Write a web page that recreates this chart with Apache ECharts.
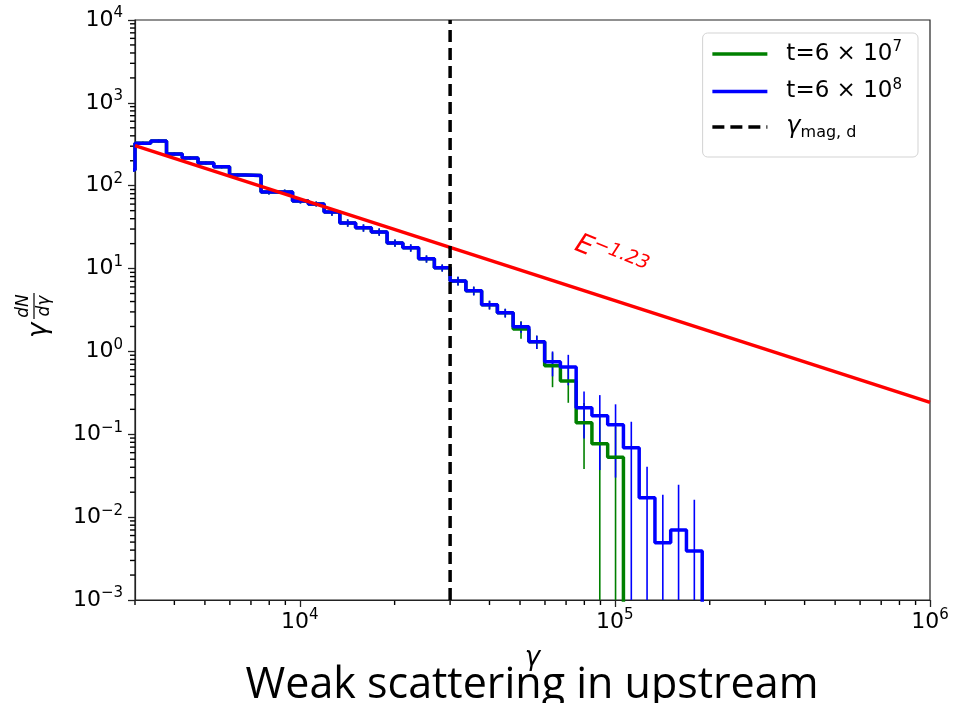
<!DOCTYPE html>
<html lang="en">
<head>
    <meta charset="UTF-8">
    <title>Weak scattering in upstream</title>
</head>
<script src="https://cdn.jsdelivr.net/npm/echarts@6/dist/echarts.min.js"></script>
<body style="margin:0">
<div id="main" style="height: 703px;width: 953px"></div>
<script type="text/javascript">
    // histogram bin edges in gamma (20 bins per decade, first bin lies left of the axis)
    var binEdges = [2674, 3000, 3366, 3777, 4238, 4755, 5335, 5986, 6717, 7536, 8456,
        9487, 10645, 11944, 13401, 15036, 16871, 18929, 21239, 23831, 26739,
        30000, 33661, 37768, 42376, 47547, 53348, 59857, 67161, 75356, 84551,
        94868, 106444, 119432, 134005, 150356, 168702, 189287]

    // t = 6e8 (blue)
    var blueVal = [155, 326, 347, 242, 216, 188, 169, 135, 133, 84, 84, 65.6, 60.3, 48.3,
        35.6, 31, 27.7, 20.4, 17.8, 13.1, 10.2, 7.1, 5.4, 3.65, 2.92, 1.98, 1.31,
        0.75, 0.65, 0.209, 0.167, 0.13, 0.0687, 0.0171, 0.0049, 0.007, 0.0039]
    var blueErr = [6, 13, 14, 10, 9, 8, 7, 5.5, 5.3, 5.9, 5.9, 4.6, 4.2, 4.8, 3.6, 3.1, 2.8,
        2.0, 1.8, 1.3, 1.0, 0.85, 0.65, 0.44, 0.35, 0.3, 0.24, 0.25, 0.26, 0.12, 0.13,
        0.1, 0.073, 0.0234, 0.0137, 0.0176, 0.0123]

    // t = 6e7 (green)
    var greenVal = [155, 326, 347, 242, 216, 188, 169, 135, 133, 84, 84, 65.6, 60.3, 48.3,
        35.6, 31, 27.7, 20.4, 17.8, 13.1, 10.2, 7.1, 5.4, 3.65, 2.92, 1.87, 1.31,
        0.67, 0.44, 0.138, 0.077, 0.053]
    var greenErr = [6, 13, 14, 10, 9, 8, 7, 5.5, 5.3, 5.9, 5.9, 4.6, 4.2, 4.8, 3.6, 3.1, 2.8,
        2.0, 1.8, 1.3, 1.0, 0.85, 0.65, 0.44, 0.35, 0.45, 0.24, 0.3, 0.2, 0.1, 0.09, 0.07]

    // E^-1.23 fit, end points
    var fitX = [3000, 1e6]
    var fitY = [305, 0.243]

    var gammaMag = 30000

    var xRange = [3000, 1e6]
    var yRange = [1e-3, 1e4]
    var xMajorExp = [4, 5, 6]
    var yMajorExp = [-3, -2, -1, 0, 1, 2, 3, 4]

    var lg = Math.log10
    var BOTTOM = -5   // below the axis, gets clipped

    // minor log ticks (2..9 x 10^n)
    var xMinor = [], yMinor = []
    for (var n = 3; n < 6; n++)
        for (var k = 2; k < 10; k++)
            if (lg(k) + n >= lg(xRange[0]) - 1e-9) xMinor.push(lg(k) + n)
    for (var n = -3; n < 4; n++)
        for (var k = 2; k < 10; k++) yMinor.push(lg(k) + n)

    function stepData(vals) {
        var pts = []
        for (var i = 0; i < vals.length; i++) {
            pts.push([lg(binEdges[i]), lg(vals[i])])
            pts.push([lg(binEdges[i + 1]), lg(vals[i])])
        }
        pts.push([lg(binEdges[vals.length]), BOTTOM])
        return pts
    }

    function errData(vals, errs) {
        return vals.map(function (v, i) {
            var lo = v - errs[i]
            return [lg(Math.sqrt(binEdges[i] * binEdges[i + 1])),
                lg(v + errs[i]), lo > 0 ? lg(lo) : BOTTOM]
        })
    }

    function errSeries(name, vals, errs, color) {
        return {
            name: name,
            type: 'custom',
            clip: true,
            data: errData(vals, errs),
            renderItem: function (params, api) {
                var p1 = api.coord([api.value(0), api.value(1)])
                var p2 = api.coord([api.value(0), api.value(2)])
                return {
                    type: 'line',
                    shape: {x1: p1[0], y1: p1[1], x2: p2[0], y2: p2[1]},
                    style: {stroke: color, lineWidth: 1.6}
                }
            }
        }
    }

    var labelRich = {
        b: {fontSize: 22, fontFamily: 'DejaVu Sans', color: '#000', lineHeight: 28},
        s: {fontSize: 15, fontFamily: 'DejaVu Sans', color: '#000', lineHeight: 16, verticalAlign: 'top'}
    }
    function powLabel(v) {
        var e = Math.round(v)
        return '{b|10}{s|' + (e < 0 ? '\u2212' + (-e) : e) + '}'
    }

    var legendText = {
        green: '{p|}{n|t=6 \u00d7 10}{s|7}',
        blue: '{p|}{n|t=6 \u00d7 10}{s|8}',
        mag: '{p|}{g|\u03b3}{u|mag, d}'
    }

    var axisColor = '#222'
    var myChart = echarts.init(document.getElementById('main'))
    var option = {
        animation: false,
        grid: {
            left: 135, right: 23, top: 20, bottom: 103,
            show: true, borderColor: axisColor, borderWidth: 1.2
        },
        xAxis: {
            type: 'value', position: 'bottom',
            min: lg(xRange[0]), max: lg(xRange[1]),
            name: '\u03b3', nameLocation: 'middle', nameGap: 45,
            nameTextStyle: {fontSize: 26, fontStyle: 'italic', fontFamily: 'DejaVu Sans', color: '#000'},
            axisLine: {onZero: false, lineStyle: {color: axisColor, width: 1.2}},
            splitLine: {show: false},
            axisTick: {customValues: xMajorExp, length: 7, lineStyle: {color: axisColor, width: 1.3}},
            axisLabel: {customValues: xMajorExp, margin: 8, formatter: powLabel, rich: labelRich}
        },
        yAxis: {
            type: 'value', position: 'left',
            min: lg(yRange[0]), max: lg(yRange[1]),
            axisLine: {onZero: false, lineStyle: {color: axisColor, width: 1.2}},
            splitLine: {show: false},
            axisTick: {customValues: yMajorExp, length: 7, lineStyle: {color: axisColor, width: 1.3}},
            axisLabel: {customValues: yMajorExp, margin: 12, formatter: powLabel, rich: labelRich}
        },
        legend: {
            data: ['green', 'blue', 'mag'],
            orient: 'vertical',
            right: 35, top: 33,
            padding: [7, 16, 16, 8],
            itemWidth: 55, itemHeight: 14, itemGap: 12,
            backgroundColor: '#fff', borderColor: '#d3d3d3', borderWidth: 1, borderRadius: 5,
            itemStyle: {opacity: 0},
            lineStyle: {width: 3.5},
            formatter: function (name) { return legendText[name] },
            textStyle: {
                rich: {
                    p: {width: 14},
                    n: {fontSize: 23, fontFamily: 'DejaVu Sans', color: '#000', lineHeight: 28},
                    s: {fontSize: 15, fontFamily: 'DejaVu Sans', color: '#000', lineHeight: 16, verticalAlign: 'top'},
                    g: {fontSize: 24, fontFamily: 'DejaVu Sans', fontStyle: 'italic', color: '#000', lineHeight: 28},
                    u: {fontSize: 16, fontFamily: 'DejaVu Sans', color: '#000', lineHeight: 16, verticalAlign: 'bottom'}
                }
            }
        },
        series: [{
            name: 'green', type: 'line', showSymbol: false, symbol: 'none',
            data: stepData(greenVal), clip: true,
            lineStyle: {color: 'green', width: 3.5}, itemStyle: {color: 'green'}
        },
            errSeries('greenErr', greenVal, greenErr, 'green'),
        {
            name: 'blue', type: 'line', showSymbol: false, symbol: 'none',
            data: stepData(blueVal), clip: true,
            lineStyle: {color: '#0000ff', width: 3.5}, itemStyle: {color: '#0000ff'}
        },
            errSeries('blueErr', blueVal, blueErr, '#0000ff'),
        {
            name: 'fit', type: 'line', showSymbol: false, symbol: 'none', clip: true,
            data: fitX.map(function (x, i) { return [lg(x), lg(fitY[i])] }),
            lineStyle: {color: '#ff0000', width: 3.5}
        }, {
            name: 'mag', type: 'line', showSymbol: false, symbol: 'none', clip: true,
            data: [[lg(gammaMag), lg(yRange[0])], [lg(gammaMag), lg(yRange[1])]],
            lineStyle: {color: '#000', width: 3.5, type: [12, 6]}, itemStyle: {color: '#000'}
        }],
        graphic: [{
            // y axis label: gamma dN/dgamma
            type: 'group', x: 39, y: 338, rotation: Math.PI / 2,
            children: [{
                type: 'text', x: 0, y: 0,
                style: {text: '\u03b3', font: 'italic 26px "DejaVu Sans"', fill: '#000', align: 'left', verticalAlign: 'middle'}
            }, {
                type: 'text', x: 32, y: -15,
                style: {text: 'dN', font: 'italic 17px "DejaVu Sans"', fill: '#000', align: 'center', verticalAlign: 'middle'}
            }, {
                type: 'line', shape: {x1: 19, y1: -5, x2: 45, y2: -5},
                style: {stroke: '#000', lineWidth: 1.2}
            }, {
                type: 'text', x: 32, y: 6,
                style: {text: 'd\u03b3', font: 'italic 17px "DejaVu Sans"', fill: '#000', align: 'center', verticalAlign: 'middle'}
            }]
        }, {
            // power-law annotation
            type: 'text', x: 611, y: 257, rotation: -22 * Math.PI / 180,
            style: {
                text: '{e|E}{s|\u22121.23}',
                align: 'center', verticalAlign: 'middle',
                rich: {
                    e: {fontSize: 27, fontFamily: 'DejaVu Sans', fontStyle: 'italic', fill: '#ff0000', lineHeight: 32},
                    s: {fontSize: 19, fontFamily: 'DejaVu Sans', fontStyle: 'italic', fill: '#ff0000', lineHeight: 20, verticalAlign: 'top'}
                }
            }
        }, {
            type: 'text', x: 532, y: 686,
            style: {
                text: 'Weak scattering in upstream', font: '43px "Open Sans"', fill: '#000',
                align: 'center', verticalAlign: 'middle'
            }
        }]
    }
    myChart.setOption(option)

    // minor ticks, placed with the chart's own axis scales, on their own layer
    var tickLines = []
    xMinor.forEach(function (v) {
        var p = myChart.convertToPixel({gridIndex: 0}, [v, lg(yRange[0])])
        tickLines.push({type: 'line', shape: {x1: p[0], y1: p[1], x2: p[0], y2: p[1] + 5},
            style: {stroke: '#000', lineWidth: 1.4}})
    })
    yMinor.forEach(function (v) {
        var p = myChart.convertToPixel({gridIndex: 0}, [lg(xRange[0]), v])
        tickLines.push({type: 'line', shape: {x1: p[0], y1: p[1], x2: p[0] - 5, y2: p[1]},
            style: {stroke: '#000', lineWidth: 1.4}})
    })
    option.graphic.push({type: 'group', zlevel: 1, z: 100, children: tickLines})
    myChart.setOption(option)
</script>
</body>
</html>
